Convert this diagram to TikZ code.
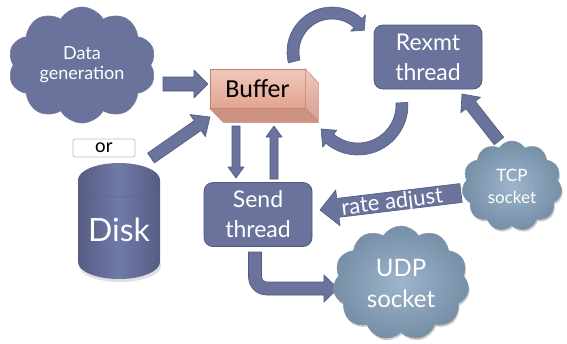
\documentclass[tikz,border=0pt]{standalone}
\usepackage{fontspec}
\setmainfont{Lato}
\newfontfamily\cbfont{Carlito}
\usetikzlibrary{shapes.symbols,shadows,calc}

\definecolor{slate}{RGB}{106,115,156}
\definecolor{slateedge}{RGB}{80,88,128}
\definecolor{steellight}{RGB}{158,182,204}
\definecolor{steeldark}{RGB}{118,142,166}
\definecolor{steeledge}{RGB}{126,150,174}
\definecolor{bufftop}{RGB}{242,200,188}
\definecolor{buffbot}{RGB}{226,164,146}
\definecolor{buffsidetop}{RGB}{240,200,190}
\definecolor{buffsidebot}{RGB}{214,158,142}
\definecolor{buffbase}{RGB}{204,146,130}
\definecolor{buffedge}{RGB}{196,128,112}
\definecolor{orframe}{RGB}{168,196,220}
\definecolor{disklight}{RGB}{112,122,168}
\definecolor{diskdark}{RGB}{86,92,132}

\tikzset{
  blockarrow/.style={fill=slate, draw=slateedge, line width=0.6pt, line join=round},
  thread/.style={rectangle, rounded corners=9pt, fill=slate, draw=slateedge,
    line width=0.8pt, text=white, minimum width=108pt, minimum height=64pt,
    align=center, inner sep=0pt, font=\fontsize{23}{30}\selectfont},
  datacloud/.style={cloud, cloud puffs=10, cloud puff arc=120, cloud ignores aspect,
    inner sep=0pt, fill=slate, draw=slateedge!80, line width=0.6pt, text=white,
    align=center, font=\fontsize{18}{20}\selectfont},
  socketcloud/.style={cloud, cloud puffs=11, cloud puff arc=115, cloud ignores aspect,
    inner sep=0pt, draw=steeledge, line width=0.5pt, inner color=steellight,
    outer color=steeldark, text=white, align=center,
    drop shadow={shadow xshift=1pt, shadow yshift=-2pt, opacity=0.2, fill=black}},
  buffront/.style={rectangle, minimum width=95pt, minimum height=39pt, inner sep=0pt,
    top color=bufftop, bottom color=buffbot, draw=buffedge, line width=0.5pt,
    font=\cbfont\fontsize{26}{28}\selectfont},
  orbox/.style={rectangle, rounded corners=2pt, draw=orframe, line width=0.8pt,
    fill=white, minimum width=62pt, minimum height=18pt, inner sep=0pt,
    font=\cbfont\fontsize{20}{20}\selectfont},
}

% straight block arrow outline from #1 to #2: shaft half-width #3, head half-width #4, head length #5
\newcommand\arrowoutline[5]{let \p1=(#1), \p2=(#2),
    \n1={atan2(\y2-\y1,\x2-\x1)}, \n2={veclen(\x2-\x1,\y2-\y1)} in
    [shift={(\p1)}, rotate=\n1]
    (0pt,-#3pt) -- (\n2-#5pt,-#3pt) -- (\n2-#5pt,-#4pt) -- (\n2,0pt)
    -- (\n2-#5pt,#4pt) -- (\n2-#5pt,#3pt) -- (0pt,#3pt) -- cycle}

\begin{document}
\begin{tikzpicture}[x=1pt,y=-1pt]
  \fill[white] (0,0) rectangle (567,343);
  \useasboundingbox (0,0) rectangle (567,343);

  % ---- end points of the straight connectors ----
  \coordinate (dg-from) at (163,84);   \coordinate (dg-to) at (208,84);
  \coordinate (dk-from) at (151,158);  \coordinate (dk-to) at (210,117);
  \coordinate (bs-from) at (236,126);  \coordinate (bs-to) at (236,178);
  \coordinate (sb-from) at (274,179);  \coordinate (sb-to) at (274,126);
  \coordinate (tr-from) at (499,141);  \coordinate (tr-to) at (462,94);
  \coordinate (ra-from) at (461,193);  \coordinate (ra-to) at (320,210);
  \coordinate (ratetxt) at (393,209);
  \coordinate (topc) at (332,52);
  \coordinate (botc) at (358,105);

  % ---- boxes ----
  \node[thread] (rexmt) at (428,57) {Rexmt\\thread};
  \node[thread] (send) at (258,214.5) {Send\\thread};

  % ---- buffer block ----
  \node[buffront] (buffer) at (257.5,88.5) {Buffer};
  \path[top color=buffsidetop, bottom color=buffsidebot, draw=buffedge, line width=0.5pt]
    (buffer.north east) -- ++(13,14) -- ++(0,39) -- (buffer.south east) -- cycle;
  \path[fill=buffbase, draw=buffedge, line width=0.5pt]
    (buffer.south west) -- (buffer.south east) -- ++(13,14) -- ++(-95,0) -- cycle;

  % ---- disk ----
  \fill[black, opacity=0.12] (120,266) ellipse[x radius=41, y radius=16];
  \path[left color=diskdark, right color=diskdark, middle color=disklight]
    (78,180) -- (78,262) arc[start angle=180, end angle=0, x radius=41, y radius=17]
    -- (160,180) arc[start angle=0, end angle=-180, x radius=41, y radius=17] -- cycle;
  \draw[slateedge, opacity=0.5, line width=0.5pt]
    (78,180) arc[start angle=180, end angle=0, x radius=41, y radius=17];
  \node[text=white, font=\fontsize{32}{34}\selectfont] (disk) at (119,230) {Disk};

  \node[orbox] (orlabel) at (104,148) {or};

  % ---- straight block arrows ----
  \path[blockarrow] \arrowoutline{dg-from}{dg-to}{7}{14}{14};
  \path[blockarrow] \arrowoutline{dk-from}{dk-to}{6}{13.5}{15};
  \path[blockarrow] \arrowoutline{bs-from}{bs-to}{4}{8}{11};
  \path[blockarrow] \arrowoutline{sb-from}{sb-to}{4}{8}{11};
  \path[blockarrow] \arrowoutline{tr-from}{tr-to}{6}{12.5}{14};
  \path[blockarrow] \arrowoutline{ra-from}{ra-to}{9.5}{18}{18};
  \begin{scope}
    \clip \arrowoutline{ra-from}{ra-to}{9.5}{18}{18};
    \node[text=white, font=\fontsize{22}{22}\selectfont, rotate=6.9, anchor=base,
      inner sep=0pt] (ratelabel) at (ratetxt) {rate adjust};
  \end{scope}

  % ---- curved arrows round the buffer ----
  \path[blockarrow] ($(topc)+(166:45)$) arc[start angle=166, end angle=312, radius=45]
    -- ($(topc)+(312:50)$) -- ($(topc)+(326:39)$) -- ($(topc)+(312:28)$)
    -- ($(topc)+(312:33)$) arc[start angle=312, end angle=166, radius=33] -- cycle;
  \path[blockarrow] ($(botc)+(-3:50)$) arc[start angle=-3, end angle=130, radius=50]
    -- ($(botc)+(130:55)$) -- ($(botc)+(147:44)$) -- ($(botc)+(130:33)$)
    -- ($(botc)+(130:38)$) arc[start angle=130, end angle=-3, radius=38] -- cycle;

  % ---- elbow arrow from the send thread to the UDP socket ----
  \path[blockarrow] (248.5,252) -- (248.5,277) arc[start angle=180, end angle=90, radius=18]
    -- (324,295) -- (324,302) -- (338,288.5) -- (324,275) -- (324,282)
    -- (266.5,282) arc[start angle=90, end angle=180, radius=5] -- (261.5,252) -- cycle;

  % ---- clouds ----
  \node[datacloud, minimum width=148pt, minimum height=116pt] (datagen) at (82,65)
    {Data\\generation};
  \node[socketcloud, minimum width=100pt, minimum height=90pt,
    font=\fontsize{17}{22}\selectfont] (tcp) at (512,186) {TCP\\socket};
  \node[socketcloud, minimum width=136pt, minimum height=114pt,
    font=\fontsize{24}{31}\selectfont] (udp) at (401,283) {UDP\\socket};
\end{tikzpicture}
\end{document}
